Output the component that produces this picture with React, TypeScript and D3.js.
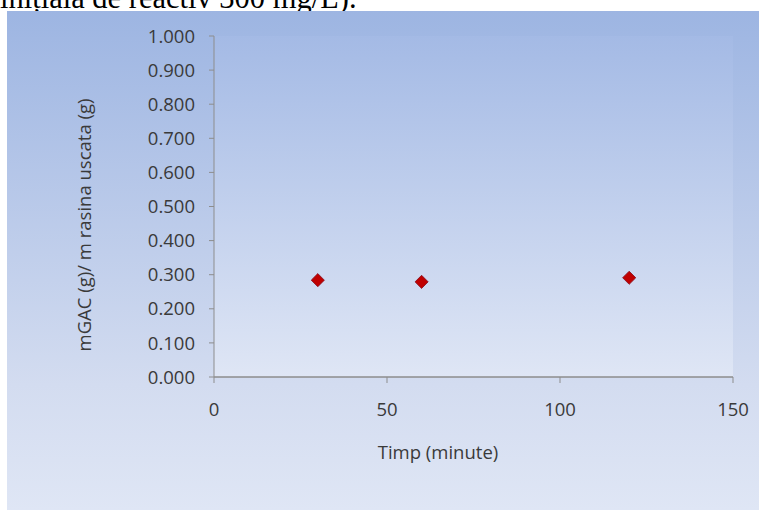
import React from "react";
import * as d3 from "d3";

// Time (minutes) and mass ratio mGAC / m dry resin
const timeMinutes = [30, 60, 120];
const massRatio = [0.284, 0.279, 0.291];

const yTicks = [0, 0.1, 0.2, 0.3, 0.4, 0.5, 0.6, 0.7, 0.8, 0.9, 1.0];
const xTicks = [0, 50, 100, 150];

const captionText = "inițială de reactiv 300 mg/L).";
const xTitle = "Timp (minute)";
const yTitle = "mGAC (g)/ m rasina uscata (g)";

const W = 759;
const H = 510;
const plot = { left: 214, right: 733, top: 36, bottom: 377 };
const font = "'Open Sans', sans-serif";
const fontSize = 18.5;
const textColor = "#3a3a3a";
const axisColor = "#8d8d8d";

export default function App() {
  const x = d3.scaleLinear().domain([0, 150]).range([plot.left, plot.right]);
  const y = d3.scaleLinear().domain([0, 1]).range([plot.bottom, plot.top]);
  const diamond = d3.symbol().type(d3.symbolSquare).size(86)();

  return (
    <svg
      width={W}
      height={H}
      style={{ position: "absolute", left: 0, top: 0, background: "#fff" }}
    >
      <defs>
        <linearGradient id="bgGrad" x1="0" y1="0" x2="0" y2="1">
          <stop offset="0%" stopColor="#9db5e2" />
          <stop offset="75%" stopColor="#d3dcf0" />
          <stop offset="100%" stopColor="#dfe6f5" />
        </linearGradient>
        <linearGradient id="plotGrad" x1="0" y1="0" x2="0" y2="1">
          <stop offset="0%" stopColor="#a4bae5" />
          <stop offset="100%" stopColor="#dfe6f5" />
        </linearGradient>
      </defs>

      {/* caption line from the surrounding document, running off the top edge */}
      <text
        x={0}
        y={8}
        fontFamily="'Liberation Serif', 'Times New Roman', serif"
        fontSize={30.5}
        fill="#000"
      >
        {captionText}
      </text>

      <rect x={7} y={11} width={W - 7} height={H - 11} fill="url(#bgGrad)" />
      <rect
        x={plot.left}
        y={plot.top}
        width={plot.right - plot.left}
        height={plot.bottom - plot.top}
        fill="url(#plotGrad)"
      />

      {/* y axis */}
      <line
        x1={plot.left}
        x2={plot.left}
        y1={plot.top}
        y2={plot.bottom}
        stroke={axisColor}
        strokeWidth={1}
      />
      {yTicks.map((t) => (
        <g key={"y" + t}>
          <line
            x1={plot.left - 5}
            x2={plot.left}
            y1={y(t)}
            y2={y(t)}
            stroke={axisColor}
          />
          <text
            x={195}
            y={y(t)}
            dy="0.36em"
            textAnchor="end"
            fontFamily={font}
            fontSize={fontSize}
            fill={textColor}
          >
            {d3.format(".3f")(t)}
          </text>
        </g>
      ))}

      {/* x axis */}
      <line
        x1={plot.left}
        x2={plot.right}
        y1={plot.bottom}
        y2={plot.bottom}
        stroke={axisColor}
        strokeWidth={1.5}
      />
      {xTicks.map((t) => (
        <g key={"x" + t}>
          <line
            x1={x(t)}
            x2={x(t)}
            y1={plot.bottom}
            y2={plot.bottom + 6}
            stroke={axisColor}
          />
          <text
            x={x(t)}
            y={416}
            textAnchor="middle"
            fontFamily={font}
            fontSize={fontSize}
            fill={textColor}
          >
            {t}
          </text>
        </g>
      ))}

      <text
        x={438}
        y={459}
        textAnchor="middle"
        fontFamily={font}
        fontSize={fontSize}
        fill={textColor}
      >
        {xTitle}
      </text>
      <text
        transform="translate(90.5, 225) rotate(-90)"
        textAnchor="middle"
        fontFamily={font}
        fontSize={fontSize}
        fill={textColor}
      >
        {yTitle}
      </text>

      {/* data markers */}
      {timeMinutes.map((t, i) => (
        <path
          key={"p" + t}
          d={diamond}
          transform={`translate(${x(t)}, ${y(massRatio[i])}) rotate(45)`}
          fill="#c00000"
          stroke="#8a1020"
          strokeWidth={0.8}
        />
      ))}
    </svg>
  );
}
